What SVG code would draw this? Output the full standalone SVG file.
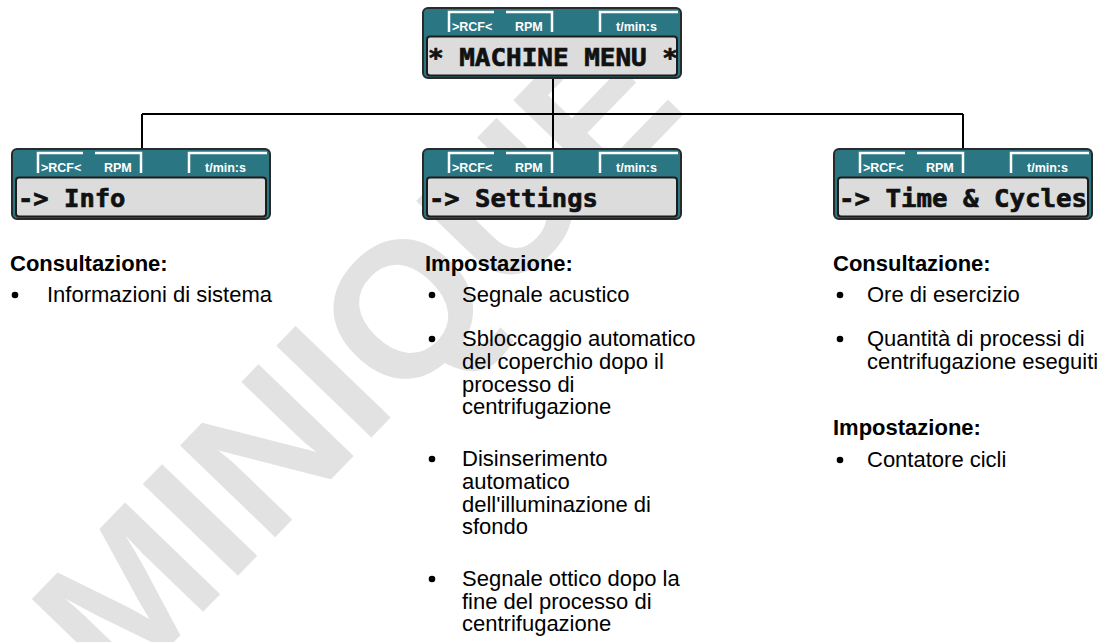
<svg xmlns="http://www.w3.org/2000/svg" width="1105" height="642" viewBox="0 0 1105 642">
<style>
.wm{font-family:"Liberation Sans",Arial,sans-serif;font-weight:bold;font-size:192px;fill:#e2e2e2}
.outer{fill:#2b7683;stroke:#2a2a2a;stroke-width:2}
.tab{fill:none;stroke:#ffffff;stroke-width:2.5}
.lcd{fill:#dcdcdc;stroke:#1c1c1c;stroke-width:2}
.lab{font-family:"Liberation Sans",Arial,sans-serif;font-weight:bold;font-size:12.5px;fill:#ffffff}
.lcdt{font-family:"DejaVu Sans Mono",monospace;font-weight:bold;font-size:25.5px;fill:#111111;stroke:#111111;stroke-width:0.7}
.h{font-family:"Liberation Sans",Arial,sans-serif;font-weight:bold;font-size:22px;fill:#000000}
.t{font-family:"Liberation Sans",Arial,sans-serif;font-size:22px;fill:#000000}
.conn{fill:none;stroke:#000000;stroke-width:2}
</style>
<defs>
<g id="frame">
<rect class="outer" x="0" y="0" width="258" height="70" rx="5"/>
<path class="tab" d="M26,24 V4 H71 M83,4 H129 V24 M177,24 V4 H255"/>
<rect class="lcd" x="4" y="28.5" width="250" height="39" rx="3"/>
<text class="lab" x="29" y="23">&gt;RCF&lt;</text>
<text class="lab" x="92" y="23">RPM</text>
<text class="lab" x="193" y="23">t/min:s</text>
</g>
</defs>
<g id="watermark"><text class="wm" transform="translate(118,700) rotate(-46)">MINIQUE</text></g>
<g id="connectors">
<path class="conn" d="M553,78 V114 M142,114 H963 M142,114 V149 M553,114 V149 M963,114 V149"/>
</g>
<g id="node-machine-menu">
<use href="#frame" x="423" y="8"/>
<text class="lcdt" x="428" y="66" textLength="250" lengthAdjust="spacingAndGlyphs">* MACHINE MENU *</text>
</g>
<g id="node-info">
<use href="#frame" x="12" y="149"/>
<text class="lcdt" x="18" y="207">-&gt; Info</text>
</g>
<g id="node-settings">
<use href="#frame" x="423" y="149"/>
<text class="lcdt" x="429" y="207">-&gt; Settings</text>
</g>
<g id="node-time">
<use href="#frame" x="834" y="149"/>
<text class="lcdt" x="839" y="207" textLength="248" lengthAdjust="spacingAndGlyphs">-&gt; Time &amp; Cycles</text>
</g>
<g id="text-info">
<text class="h" x="10" y="271">Consultazione:</text>
<circle cx="15" cy="295" r="3.3"/>
<text class="t" x="47" y="302">Informazioni di sistema</text>
</g>
<g id="text-settings">
<text class="h" x="425" y="271">Impostazione:</text>
<circle cx="432" cy="295" r="3.3"/>
<text class="t" x="462" y="302">Segnale acustico</text>
<circle cx="432" cy="339" r="3.3"/>
<text class="t" x="462" y="346">Sbloccaggio automatico</text>
<text class="t" x="462" y="369">del coperchio dopo il</text>
<text class="t" x="462" y="392">processo di</text>
<text class="t" x="462" y="414">centrifugazione</text>
<circle cx="432" cy="459" r="3.3"/>
<text class="t" x="462" y="466">Disinserimento</text>
<text class="t" x="462" y="489">automatico</text>
<text class="t" x="462" y="512">dell'illuminazione di</text>
<text class="t" x="462" y="534">sfondo</text>
<circle cx="432" cy="579" r="3.3"/>
<text class="t" x="462" y="586">Segnale ottico dopo la</text>
<text class="t" x="462" y="609">fine del processo di</text>
<text class="t" x="462" y="631">centrifugazione</text>
</g>
<g id="text-time">
<text class="h" x="833" y="271">Consultazione:</text>
<circle cx="840" cy="295" r="3.3"/>
<text class="t" x="867" y="302">Ore di esercizio</text>
<circle cx="840" cy="339" r="3.3"/>
<text class="t" x="867" y="346">Quantità di processi di</text>
<text class="t" x="867" y="369">centrifugazione eseguiti</text>
<text class="h" x="833" y="435">Impostazione:</text>
<circle cx="840" cy="460" r="3.3"/>
<text class="t" x="867" y="467">Contatore cicli</text>
</g>
</svg>
